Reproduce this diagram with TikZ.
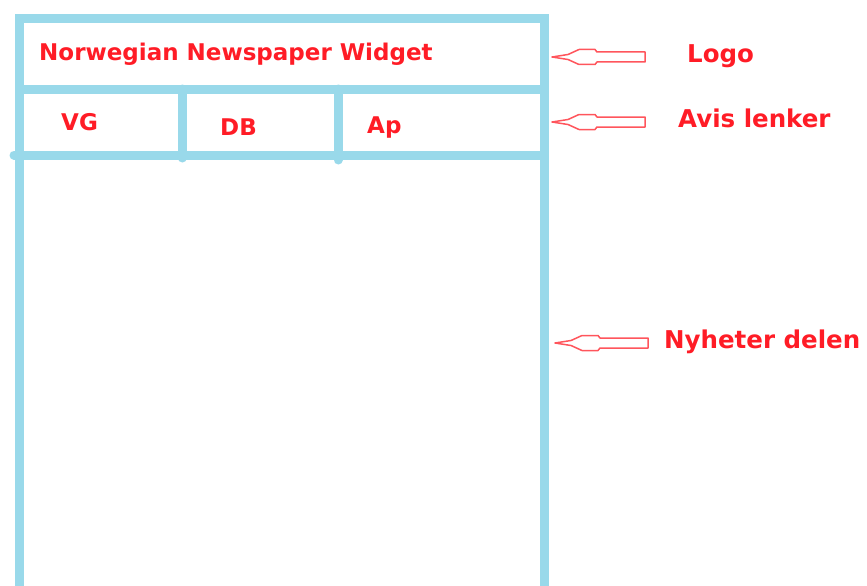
\documentclass[tikz,border=0pt]{standalone}
\usepackage{fontspec}
\setmainfont{DejaVu Sans}
\usepackage{tikz}
\usetikzlibrary{positioning}

\definecolor{paintblue}{RGB}{153,217,234}
\definecolor{inkred}{RGB}{255,28,38}

\tikzset{
  frame/.style={draw=paintblue, line width=9pt},
  divider/.style={frame, line cap=round},
  tag/.style={inner sep=0pt, anchor=base west, text=inkred,
    font=\fontsize{23}{26}\selectfont\bfseries},
  side tag/.style={tag, font=\fontsize{24.5}{28}\selectfont\bfseries},
  pointer/.style={draw=inkred!75, line width=1.5pt, line join=round, fill=white}
}

\begin{document}
\begin{tikzpicture}[x=1pt, y=-1pt]
\useasboundingbox (0,0) rectangle (867,586);

% the widget box
\draw [frame, line join=miter] (19,600) -- (19,19) -- (544,19) -- (544,600);
\draw [frame] (19,89) -- (544,89);
\draw [divider] (14,155) -- (544,155);
\draw [divider] (182,89) -- (182,158);
\draw [divider] (338,89) -- (338,160);

\node [tag] (title) at (39,60) {Norwegian Newspaper Widget};
\node [tag] (vg) at (61,130) {VG};
\node [tag] (db) at (220,135) {DB};
\node [tag] (ap) at (367,133) {Ap};

% labels on the right
\node [side tag] (logo) at (687,63) {Logo};
\node [side tag] (avis) at (678,127) {Avis lenker};
\node [side tag] (nyheter) at (664,348) {Nyheter delen};

\coordinate (tip-logo) at (552,57);
\coordinate (tip-avis) at (552,122);
\coordinate (tip-nyheter) at (555,343);

\foreach \t in {tip-logo,tip-avis,tip-nyheter}
  \draw [pointer] (\t) -- ++(16,-2.5) -- ++(11,-5) -- ++(16,0) -- ++(2,2.5)
    -- ++(48,0) -- ++(0,10) -- ++(-48,0) -- ++(-2,2.5) -- ++(-16,0)
    -- ++(-11,-5) -- cycle;

\end{tikzpicture}
\end{document}
